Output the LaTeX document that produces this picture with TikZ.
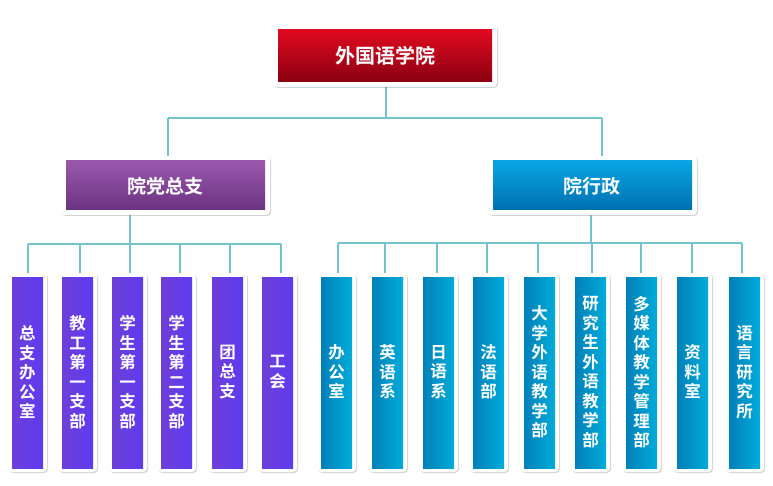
\documentclass[tikz,border=0pt]{standalone}
\usepackage{fontspec}
\newfontfamily\cjk{Noto Sans CJK SC Bold}
\usetikzlibrary{shadows}
\definecolor{ln}{HTML}{74C2CC}
\definecolor{pa}{HTML}{6E3FD8}
\definecolor{pb}{HTML}{5E3BF0}
\definecolor{ba}{HTML}{0080B8}
\definecolor{bb}{HTML}{00ACDA}
\definecolor{ra}{HTML}{E00A20}
\definecolor{rb}{HTML}{8A0010}
\definecolor{ma}{HTML}{9A58AC}
\definecolor{mb}{HTML}{6A3380}
\definecolor{ca}{HTML}{08A4E2}
\definecolor{cb}{HTML}{0070B0}
\begin{document}
\begin{tikzpicture}[x=1pt,y=-1pt,
  frame/.style={fill=white,rounded corners=4pt,drop shadow={shadow xshift=1pt,shadow yshift=-1pt,opacity=0.35}},
  conn/.style={draw=ln,line width=2.2pt},
  txt/.style={text=white,font=\cjk,align=center}]
\useasboundingbox (0,0) rectangle (773,486);
% connectors
\draw[conn] (386,85) -- (386,118) (168,118) -- (602,118) (168,118) -- (168,158) (602,118) -- (602,158);
\draw[conn] (130,213) -- (130,244) (28,244) -- (281,244);
\foreach \x in {28,80,130,180,230,281} \draw[conn] (\x,244) -- (\x,273);
\draw[conn] (591,213) -- (591,243) (338,243) -- (742,243);
\foreach \x in {338,385,437,487,538,592,641,692,742} \draw[conn] (\x,243) -- (\x,273);
% top box
\path[frame] (273,25) rectangle (497,87);
\shade[top color=ra,bottom color=rb] (278,30) rectangle (492,82);
\node[txt,font=\cjk\fontsize{20}{20}\selectfont] (top) at (385,56) {外国语学院};
% parents
\path[frame] (61,156) rectangle (270,215);
\shade[top color=ma,bottom color=mb] (66,161) rectangle (265,210);
\node[txt,font=\cjk\fontsize{19}{19}\selectfont] (l) at (165,186) {院党总支};
\path[frame] (488,156) rectangle (697,215);
\shade[top color=ca,bottom color=cb] (493,161) rectangle (692,210);
\node[txt,font=\cjk\fontsize{19}{19}\selectfont] (r) at (592,186) {院行政};
% children
\foreach \x/\t in {8/总\\支\\办\\公\\室,58/教\\工\\第\\一\\支\\部,108/学\\生\\第\\一\\支\\部,157/学\\生\\第\\二\\支\\部,208/团\\总\\支,258/工\\会}{
  \path[frame] (\x,273) rectangle (\x+39,472);
  \shade[left color=pa,right color=pb] (\x+4,277) rectangle (\x+35,468);
  \node[txt,font=\cjk\fontsize{16.5}{19.5}\selectfont] at (\x+19.5,372) {\t};
}
\foreach \x/\t in {317/办\\公\\室,368/英\\语\\系,419/日\\语\\系,469/法\\语\\部,520/大\\学\\外\\语\\教\\学\\部,571/研\\究\\生\\外\\语\\教\\学\\部,622/多\\媒\\体\\教\\学\\管\\理\\部,673/资\\料\\室,725/语\\言\\研\\究\\所}{
  \path[frame] (\x,273) rectangle (\x+39,472);
  \shade[left color=ba,right color=bb] (\x+4,277) rectangle (\x+35,468);
  \node[txt,font=\cjk\fontsize{16.5}{19.5}\selectfont] at (\x+19.5,372) {\t};
}
\end{tikzpicture}
\end{document}
